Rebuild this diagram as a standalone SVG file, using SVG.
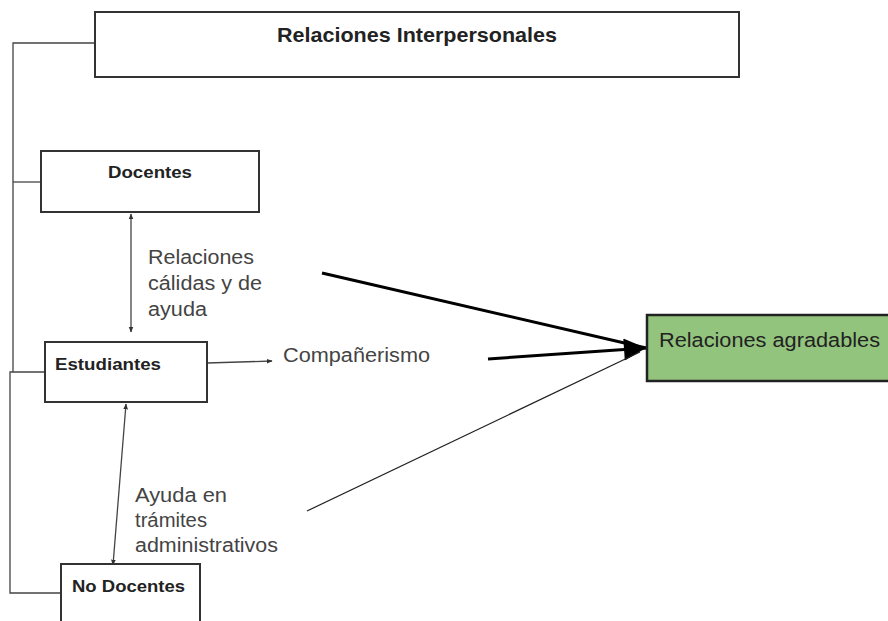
<svg xmlns="http://www.w3.org/2000/svg" width="888" height="621" viewBox="0 0 888 621">
<defs>
<style>
.box{fill:#fff;stroke:#333;stroke-width:2}
.green{fill:#93c47d;stroke:#222;stroke-width:2.5}
.ln{fill:none;stroke:#444;stroke-width:1.3}
.thick{fill:none;stroke:#000;stroke-width:3}
.thin{fill:none;stroke:#222;stroke-width:1.2}
.b{font-family:"Liberation Sans",Arial,sans-serif;font-weight:bold;fill:#222}
.t{font-family:"Liberation Sans",Arial,sans-serif;fill:#444;font-size:20px}
</style>
<marker id="sm" viewBox="0 0 10 10" refX="9" refY="5" markerWidth="6" markerHeight="6" orient="auto-start-reverse" markerUnits="userSpaceOnUse"><path d="M0,1 L10,5 L0,9 z" fill="#333"/></marker>
<marker id="big" viewBox="0 0 10 10" refX="10" refY="5" markerWidth="24" markerHeight="22" orient="auto" markerUnits="userSpaceOnUse"><path d="M0,0 L10,5 L0,10 z" fill="#000"/></marker>
</defs>
<rect width="888" height="621" fill="#fff"/>
<g id="connectors">
<path class="ln" d="M95,43 H13 V372"/>
<path class="ln" d="M41,182 H13"/>
<path class="ln" d="M45,372 H10 V593 H61"/>
<line class="ln" x1="131" y1="214" x2="131" y2="332" marker-start="url(#sm)" marker-end="url(#sm)"/>
<line class="ln" x1="126" y1="404" x2="113" y2="565" marker-start="url(#sm)" marker-end="url(#sm)"/>
<line class="ln" x1="207" y1="363" x2="272" y2="361" marker-end="url(#sm)"/>
<line class="thick" x1="322" y1="273" x2="646" y2="348"/>
<line class="thick" x1="488" y1="359" x2="646" y2="348" marker-end="url(#big)"/>
<line class="thin" x1="307" y1="511" x2="640" y2="352"/>
</g>
<g id="n-interpersonales">
<rect class="box" x="95" y="12" width="644" height="65"/>
<text class="b" x="277" y="42" font-size="20.5" textLength="280" lengthAdjust="spacingAndGlyphs">Relaciones Interpersonales</text>
</g>
<g id="n-docentes">
<rect class="box" x="41" y="151" width="218" height="61"/>
<text class="b" x="108" y="178" font-size="17" textLength="84" lengthAdjust="spacingAndGlyphs">Docentes</text>
</g>
<g id="n-estudiantes">
<rect class="box" x="45" y="342" width="162" height="60"/>
<text class="b" x="55" y="370" font-size="17" textLength="106" lengthAdjust="spacingAndGlyphs">Estudiantes</text>
</g>
<g id="n-nodocentes">
<rect class="box" x="61" y="564" width="139" height="70"/>
<text class="b" x="72" y="592" font-size="17" textLength="113" lengthAdjust="spacingAndGlyphs">No Docentes</text>
</g>
<g id="n-agradables">
<rect class="green" x="647" y="315" width="250" height="66"/>
<text x="659" y="347" font-family="Liberation Sans,Arial,sans-serif" font-size="20" fill="#222" textLength="221" lengthAdjust="spacingAndGlyphs">Relaciones agradables</text>
</g>
<g id="labels">
<text class="t" x="148" y="264" textLength="106" lengthAdjust="spacingAndGlyphs">Relaciones</text>
<text class="t" x="148" y="290" textLength="114" lengthAdjust="spacingAndGlyphs">cálidas y de</text>
<text class="t" x="148" y="316" textLength="59" lengthAdjust="spacingAndGlyphs">ayuda</text>
<text class="t" x="283" y="362" textLength="147" lengthAdjust="spacingAndGlyphs">Compañerismo</text>
<text class="t" x="135" y="502" textLength="92" lengthAdjust="spacingAndGlyphs">Ayuda en</text>
<text class="t" x="135" y="527" textLength="72" lengthAdjust="spacingAndGlyphs">trámites</text>
<text class="t" x="135" y="552" textLength="143" lengthAdjust="spacingAndGlyphs">administrativos</text>
</g>
</svg>
